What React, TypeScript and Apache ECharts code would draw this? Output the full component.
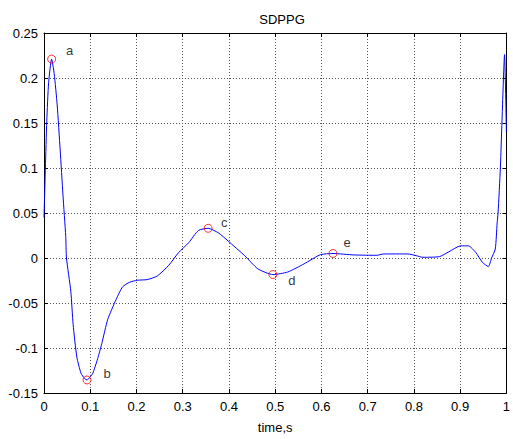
import React, { useEffect, useRef } from "react";
import * as echarts from "echarts";

const timeS = [
  0, 0.003, 0.006, 0.01, 0.0165, 0.022, 0.0285, 0.035, 0.041, 0.047, 0.0486, 0.058, 0.063, 0.071, 0.08, 0.088,
  0.093, 0.1, 0.1056, 0.116, 0.125, 0.138, 0.156, 0.17, 0.185, 0.202, 0.223, 0.245, 0.27, 0.291, 0.313, 0.334,
  0.355, 0.377, 0.398, 0.434, 0.4625, 0.495, 0.527, 0.5625, 0.598, 0.625, 0.67, 0.72, 0.734, 0.787, 0.805, 0.819,
  0.855, 0.876, 0.901, 0.918, 0.934, 0.948, 0.961, 0.968, 0.976, 0.98, 0.982, 0.987, 0.991, 0.996, 1.0,
];
const sdppg = [
  0.045, 0.1, 0.152, 0.195, 0.221, 0.205, 0.17, 0.12, 0.07, 0.024, 0, -0.037, -0.074, -0.11, -0.128, -0.134,
  -0.1355, -0.132, -0.128, -0.112, -0.095, -0.068, -0.046, -0.032, -0.027, -0.0247, -0.024, -0.02, -0.008, 0.006, 0.017, 0.0306,
  0.033, 0.028, 0.019, 0.0026, -0.012, -0.0184, -0.0156, -0.0065, 0.0037, 0.005, 0.0034, 0.003, 0.0045, 0.0045, 0.0026, 0.0008,
  0.0015, 0.007, 0.0135, 0.0135, 0.006, -0.0047, -0.0095, 0.0, 0.01, 0.039, 0.05, 0.1, 0.16, 0.226, 0.14,
];

const pointNames = ["a", "b", "c", "d", "e"];
const pointTimes = [0.0165, 0.093, 0.355, 0.495, 0.625];
const pointValues = [0.221, -0.1355, 0.033, -0.0184, 0.005];
const labelOffsets = [
  [18, -9],
  [20, -6],
  [16, -6],
  [19, 6],
  [14, -11],
];

const fmt = (v: number) => String(parseFloat(v.toFixed(2)));

export default function App() {
  const ref = useRef<HTMLDivElement>(null);
  useEffect(() => {
    if (!ref.current) return;
    const chart = echarts.init(ref.current, null, { renderer: "svg" });
    const font = "Liberation Sans, Arial, sans-serif";
    const axisLine = { show: true, onZero: false, lineStyle: { color: "#000", width: 1 } };
    const tick = { show: true, inside: true, length: 4, lineStyle: { color: "#000" } };
    const split = { show: true, lineStyle: { color: "#555", type: [1, 2] as any, width: 1 } };
    chart.setOption({
      animation: false,
      backgroundColor: "#fff",
      title: {
        text: "SDPPG",
        left: 277,
        top: 8,
        textAlign: "center",
        textStyle: { fontFamily: font, fontSize: 13, fontWeight: "normal", color: "#000" },
      },
      grid: { left: 44, right: 2, top: 33, bottom: 39 },
      xAxis: [
        {
          type: "value",
          min: 0,
          max: 1,
          interval: 0.1,
          name: "time,s",
          nameLocation: "middle",
          nameGap: 28,
          nameTextStyle: { fontFamily: font, fontSize: 13, color: "#000" },
          axisLine,
          axisTick: tick,
          splitLine: split,
          axisLabel: { fontFamily: font, fontSize: 13, color: "#000", margin: 7, formatter: fmt },
        },
        {
          type: "value",
          position: "top",
          min: 0,
          max: 1,
          interval: 0.1,
          axisLine,
          axisTick: tick,
          splitLine: { show: false },
          axisLabel: { show: false },
        },
      ],
      yAxis: [
        {
          type: "value",
          min: -0.15,
          max: 0.25,
          interval: 0.05,
          axisLine,
          axisTick: tick,
          splitLine: split,
          axisLabel: { fontFamily: font, fontSize: 13, color: "#000", margin: 6, formatter: fmt },
        },
        {
          type: "value",
          position: "right",
          min: -0.15,
          max: 0.25,
          interval: 0.05,
          axisLine,
          axisTick: tick,
          splitLine: { show: false },
          axisLabel: { show: false },
        },
      ],
      series: [
        {
          type: "line",
          data: timeS.map((t, i) => [t, sdppg[i]]),
          showSymbol: false,
          smooth: 0.2,
          lineStyle: { color: "#0000ff", width: 1 },
          z: 2,
        },
        {
          type: "scatter",
          data: pointNames.map((n, i) => ({
            name: n,
            value: [pointTimes[i], pointValues[i]],
            label: { offset: labelOffsets[i] },
          })),
          symbol: "circle",
          symbolSize: 8,
          itemStyle: { color: "rgba(0,0,0,0)", borderColor: "#ff0000", borderWidth: 1 },
          label: {
            show: true,
            position: "inside",
            formatter: (p: any) => p.name,
            fontFamily: font,
            fontSize: 13,
            color: "#000",
          },
          z: 3,
        },
      ],
    });
    return () => chart.dispose();
  }, []);
  return <div ref={ref} style={{ width: 513, height: 439, position: "absolute", left: 0, top: 0 }} />;
}
